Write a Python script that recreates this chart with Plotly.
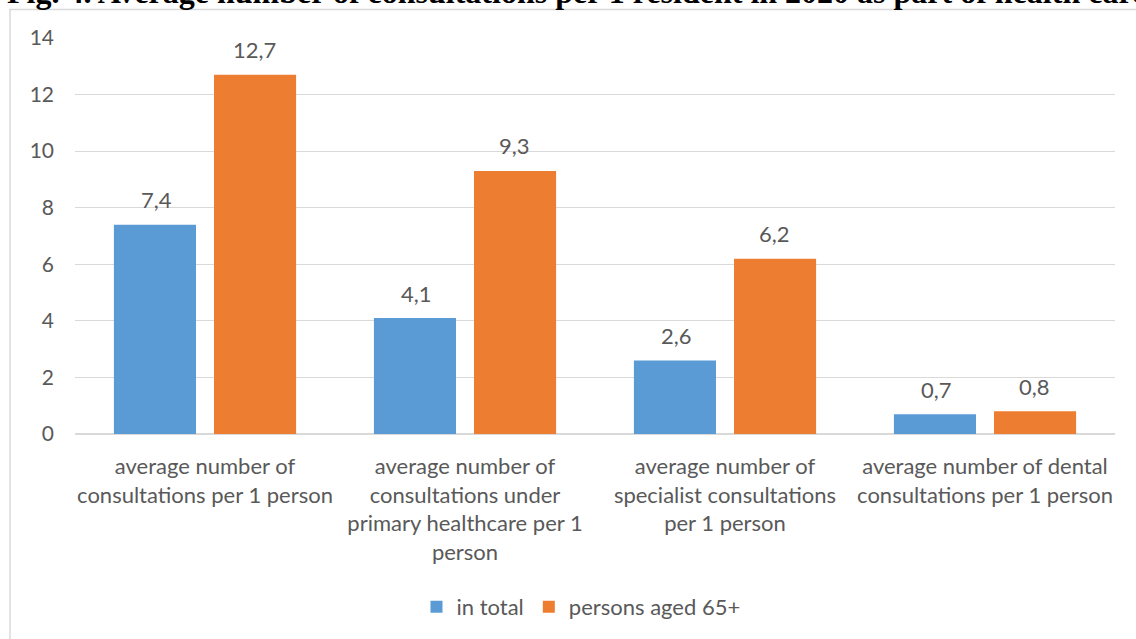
import plotly.graph_objects as go

categories = [
    "average number of<br>consultations per 1 person",
    "average number of<br>consultations under<br>primary healthcare per 1<br>person",
    "average number of<br>specialist consultations<br>per 1 person",
    "average number of dental<br>consultations per 1 person",
]
in_total = [7.4, 4.1, 2.6, 0.7]
aged_65 = [12.7, 9.3, 6.2, 0.8]
series_names = ["in total", "persons aged 65+"]
y_ticks = [0, 2, 4, 6, 8, 10, 12, 14]

BLUE = "#5b9bd5"
ORANGE = "#ed7d31"
TEXT = "#595959"
GRID = "#d9d9d9"
FONT = "Lato"

W, H = 1136, 639
L, R, T, B = 75, 21, 38, 204
plot_w = W - L - R
plot_h = H - T - B


def px_x(p):
    return (p - L) / plot_w


def px_y(p):
    return (H - B - p) / plot_h


fig = go.Figure()
fig.add_trace(go.Bar(x=categories, y=in_total, name=series_names[0],
                     marker=dict(color=BLUE, line=dict(width=0))))
fig.add_trace(go.Bar(x=categories, y=aged_65, name=series_names[1],
                     marker=dict(color=ORANGE, line=dict(width=0))))

# value labels above each bar
annotations = []
group_shift = 49
for vals, shift in ((in_total, -group_shift), (aged_65, group_shift)):
    for c, v in zip(categories, vals):
        annotations.append(dict(
            x=c, y=v, xref="x", yref="y", xshift=shift, yshift=25,
            text=f"{v:.1f}".replace(".", ","), showarrow=False,
            xanchor="center", yanchor="middle",
            font=dict(family=FONT, size=22, color=TEXT),
        ))

# figure caption, running off the top edge
annotations.append(dict(
    x=px_x(5), y=px_y(-8.5), xref="paper", yref="paper",
    text="<b>Fig. 4. Average number of consultations per 1 resident in 2020 as part of health care</b>",
    showarrow=False, xanchor="left", yanchor="middle",
    font=dict(family="Liberation Serif", size=32, color="#000000"),
))

fig.update_layout(
    width=W, height=H,
    margin=dict(l=L, r=R, t=T, b=B, pad=0),
    paper_bgcolor="white", plot_bgcolor="white",
    barmode="group", bargap=0.23, bargroupgap=0.18,
    font=dict(family=FONT, size=22, color=TEXT),
    showlegend=True,
    legend=dict(orientation="h", x=px_x(581), xanchor="center",
                y=px_y(607), yanchor="middle",
                font=dict(family=FONT, size=22, color=TEXT),
                itemwidth=30, traceorder="normal"),
    annotations=annotations,
    shapes=[dict(type="rect", xref="paper", yref="paper",
                 x0=px_x(10), x1=px_x(1145), y0=px_y(650), y1=px_y(9.5),
                 line=dict(color=GRID, width=1.5), layer="below")],
)
fig.update_xaxes(showgrid=False, showline=False, ticks="",
                 tickfont=dict(family=FONT, size=22, color=TEXT),
                 ticklabelstandoff=17)
fig.update_yaxes(range=[0, 14], tickvals=y_ticks, showgrid=True,
                 gridcolor=GRID, gridwidth=1.3, zeroline=True,
                 zerolinecolor=GRID, zerolinewidth=1.5, showline=False,
                 ticks="", tickfont=dict(family=FONT, size=21, color=TEXT),
                 ticklabelstandoff=20)

fig.write_html("out.html")
